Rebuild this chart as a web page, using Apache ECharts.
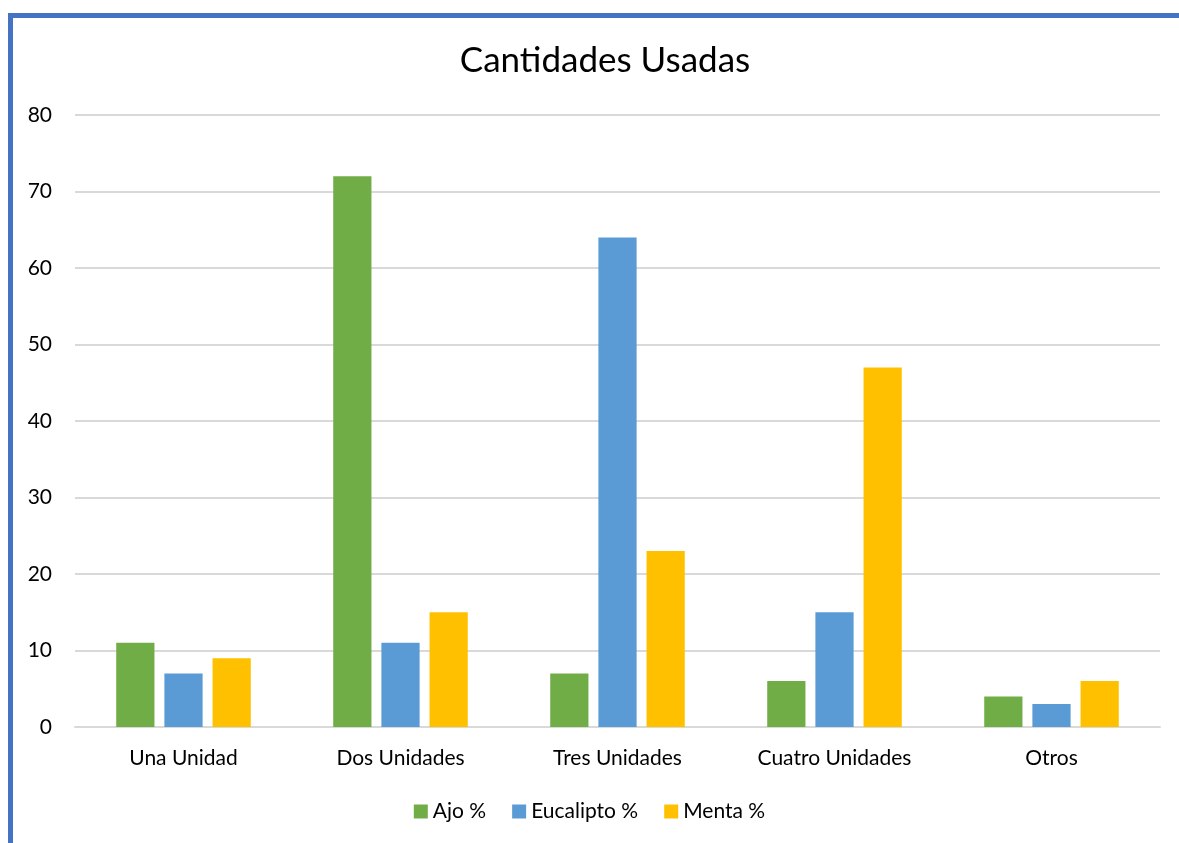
<!DOCTYPE html>
<html>
<head>
<meta charset="utf-8">
<title>Cantidades Usadas</title>
<script src="https://cdn.jsdelivr.net/npm/echarts@6/dist/echarts.min.js"></script>
<style>
  html, body { margin: 0; padding: 0; background: #fff; }
  /* marco azul arriba e izquierda */
  .frame {
    position: absolute;
    left: 8px; top: 13px; right: 0; bottom: 0;
    border-top: 5px solid #4472C4;
    border-left: 5px solid #4472C4;
  }
  #chart { position: absolute; left: 0; top: 0; width: 1179px; height: 843px; }
</style>
</head>
<body>
<div class="frame"></div>
<div id="chart"></div>
<script>
// datos
const categories = ['Una Unidad', 'Dos Unidades', 'Tres Unidades', 'Cuatro Unidades', 'Otros'];
const seriesNames = ['Ajo %', 'Eucalipto %', 'Menta %'];
const ajo = [11, 72, 7, 6, 4];
const eucalipto = [7, 11, 64, 15, 3];
const menta = [9, 15, 23, 47, 6];
const colors = ['#70AD47', '#5B9BD5', '#FFC000'];

const font = 'Lato, "Open Sans", sans-serif';

const chart = echarts.init(document.getElementById('chart'));
const option = {
  animation: false,
  color: colors,
  textStyle: { fontFamily: font },
  title: {
    text: 'Cantidades Usadas',
    left: 600,
    top: 38,
    textAlign: 'center',
    textStyle: { fontFamily: font, fontSize: 35, fontWeight: 'normal', color: '#000' }
  },
  legend: {
    data: seriesNames,
    left: 'center',
    bottom: 16,
    itemWidth: 14,
    itemHeight: 14,
    itemGap: 26,
    icon: 'rect',
    textStyle: { fontFamily: font, fontSize: 21, color: '#000' }
  },
  grid: { left: 75, right: 19, top: 115, bottom: 116 },
  xAxis: {
    type: 'category',
    data: categories,
    axisLine: { lineStyle: { color: '#d9d9d9', width: 2 } },
    axisTick: { show: false },
    axisLabel: { fontFamily: font, fontSize: 21, color: '#000', margin: 21 }
  },
  yAxis: {
    type: 'value',
    min: 0,
    max: 80,
    interval: 10,
    axisLine: { show: false },
    axisTick: { show: false },
    splitLine: { lineStyle: { color: '#d9d9d9', width: 2 } },
    axisLabel: { fontFamily: font, fontSize: 21, color: '#000', margin: 23 }
  },
  series: [
    { name: seriesNames[0], type: 'bar', data: ajo, barGap: '26%', barCategoryGap: '38%' },
    { name: seriesNames[1], type: 'bar', data: eucalipto, barGap: '26%', barCategoryGap: '38%' },
    { name: seriesNames[2], type: 'bar', data: menta, barGap: '26%', barCategoryGap: '38%' }
  ]
};
chart.setOption(option);
</script>
</body>
</html>
